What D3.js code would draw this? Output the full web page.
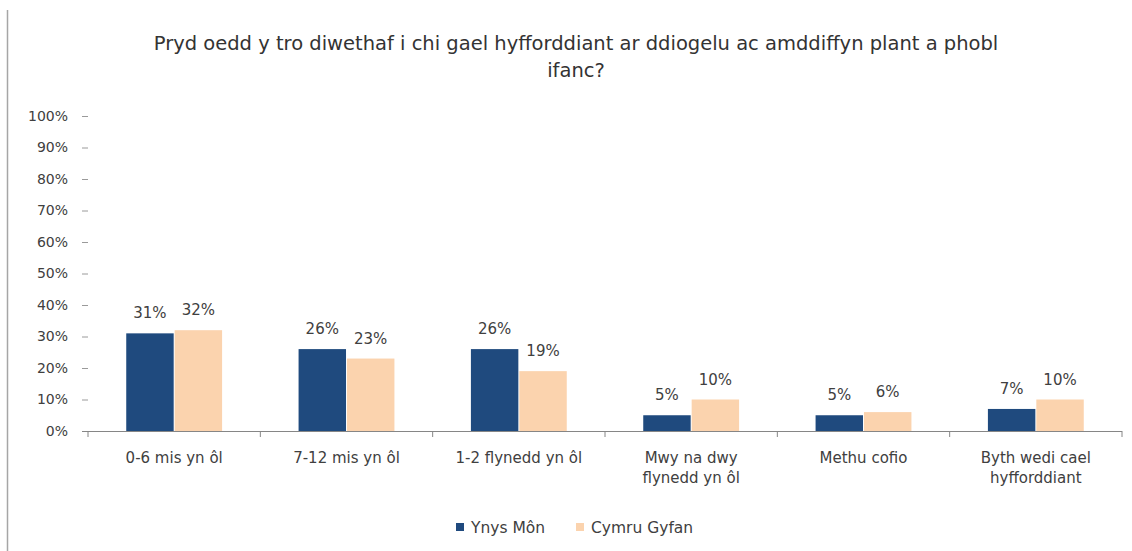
<!DOCTYPE html>
<html>
<head>
<meta charset="utf-8">
<script src="https://cdn.jsdelivr.net/npm/d3@7"></script>
<style>
  body { margin: 0; background: #fff; }
  svg { display: block; font-family: "DejaVu Sans", sans-serif; }
</style>
</head>
<body>
<div id="chart"></div>
<script>
// chart data
const categories = [
  ["0-6 mis yn ôl"],
  ["7-12 mis yn ôl"],
  ["1-2 flynedd yn ôl"],
  ["Mwy na dwy", "flynedd yn ôl"],
  ["Methu cofio"],
  ["Byth wedi cael", "hyfforddiant"]
];
const seriesNames = ["Ynys Môn", "Cymru Gyfan"];
const ynysMon = [0.31, 0.26, 0.26, 0.05, 0.05, 0.07];
const cymruGyfan = [0.32, 0.23, 0.19, 0.10, 0.06, 0.10];
const yTicks = [0, 0.1, 0.2, 0.3, 0.4, 0.5, 0.6, 0.7, 0.8, 0.9, 1];
const titleLines = [
  "Pryd oedd y tro diwethaf i chi gael hyfforddiant ar ddiogelu ac amddiffyn plant a phobl",
  "ifanc?"
];

const colors = ["#1F4A7E", "#FBD3AE"];
const width = 1132, height = 551;

const svg = d3.select("#chart").append("svg")
  .attr("width", width)
  .attr("height", height);

// left frame line
svg.append("line")
  .attr("x1", 7.5).attr("x2", 7.5)
  .attr("y1", 10).attr("y2", height)
  .attr("stroke", "#a6a6a6").attr("stroke-width", 1.5);

// title
svg.selectAll("text.title").data(titleLines).join("text")
  .attr("class", "title")
  .attr("x", 576)
  .attr("y", (d, i) => 50 + i * 27)
  .attr("text-anchor", "middle")
  .attr("font-size", 19.5)
  .attr("fill", "#333")
  .text(d => d);

// scales
const catIdx = categories.map((d, i) => i);
const x0 = d3.scaleBand().domain(catIdx).range([88, 1122]).paddingInner(0).paddingOuter(0);
const x1 = d3.scaleBand().domain([0, 1]).range([0, x0.bandwidth()]).paddingInner(0.02).paddingOuter(0.79);
const y = d3.scaleLinear().domain([0, 1]).range([431, 116]);

// y axis (ticks only, no domain line)
const yAxis = svg.append("g")
  .attr("transform", "translate(88,0)")
  .call(d3.axisLeft(y).tickValues(yTicks).tickFormat(d3.format(".0%")).tickSize(6).tickPadding(14));
yAxis.select(".domain").remove();
yAxis.selectAll(".tick line").attr("stroke", "#9a9a9a");
yAxis.selectAll(".tick text")
  .attr("font-size", 14)
  .attr("font-family", "DejaVu Sans, sans-serif")
  .attr("fill", "#404040");

// bars
const seriesData = [ynysMon, cymruGyfan];
const groups = svg.selectAll("g.series").data(seriesData).join("g")
  .attr("class", "series")
  .attr("fill", (d, s) => colors[s]);

groups.selectAll("rect").data((vals, s) => vals.map((v, i) => ({ v, i, s }))).join("rect")
  .attr("x", d => x0(d.i) + x1(d.s))
  .attr("y", d => y(d.v))
  .attr("width", x1.bandwidth())
  .attr("height", d => y(0) - y(d.v));

// data labels
groups.selectAll("text").data((vals, s) => vals.map((v, i) => ({ v, i, s }))).join("text")
  .attr("x", d => x0(d.i) + x1(d.s) + x1.bandwidth() / 2)
  .attr("y", d => y(d.v) - 15)
  .attr("text-anchor", "middle")
  .attr("font-size", 15)
  .attr("fill", "#404040")
  .text(d => d3.format(".0%")(d.v));

// x axis baseline
svg.append("line")
  .attr("x1", 82).attr("x2", 1122)
  .attr("y1", 431.5).attr("y2", 431.5)
  .attr("stroke", "#868686").attr("stroke-width", 1.2);

// category boundary ticks
const bounds = catIdx.map(i => x0(i)).concat([x0.range()[1]]);
svg.selectAll("line.ctick").data(bounds).join("line")
  .attr("class", "ctick")
  .attr("x1", d => d).attr("x2", d => d)
  .attr("y1", 431).attr("y2", 437)
  .attr("stroke", "#868686");

// category labels (multi-line)
svg.selectAll("text.cat").data(categories).join("text")
  .attr("class", "cat")
  .attr("text-anchor", "middle")
  .attr("font-size", 15)
  .attr("fill", "#404040")
  .each(function (lines, i) {
    d3.select(this).selectAll("tspan").data(lines).join("tspan")
      .attr("x", x0(i) + x0.bandwidth() / 2)
      .attr("y", (d, k) => 463 + k * 20)
      .text(d => d);
  });

// legend
const legendX = [456, 576];
const legend = svg.selectAll("g.legend").data(seriesNames).join("g")
  .attr("class", "legend")
  .attr("transform", (d, i) => `translate(${legendX[i]},527)`);
legend.append("rect")
  .attr("x", 0).attr("y", -4)
  .attr("width", 8).attr("height", 8)
  .attr("fill", (d, i) => colors[i]);
legend.append("text")
  .attr("x", 15).attr("y", 5.5)
  .attr("font-size", 15.5)
  .attr("fill", "#404040")
  .text(d => d);
</script>
</body>
</html>
